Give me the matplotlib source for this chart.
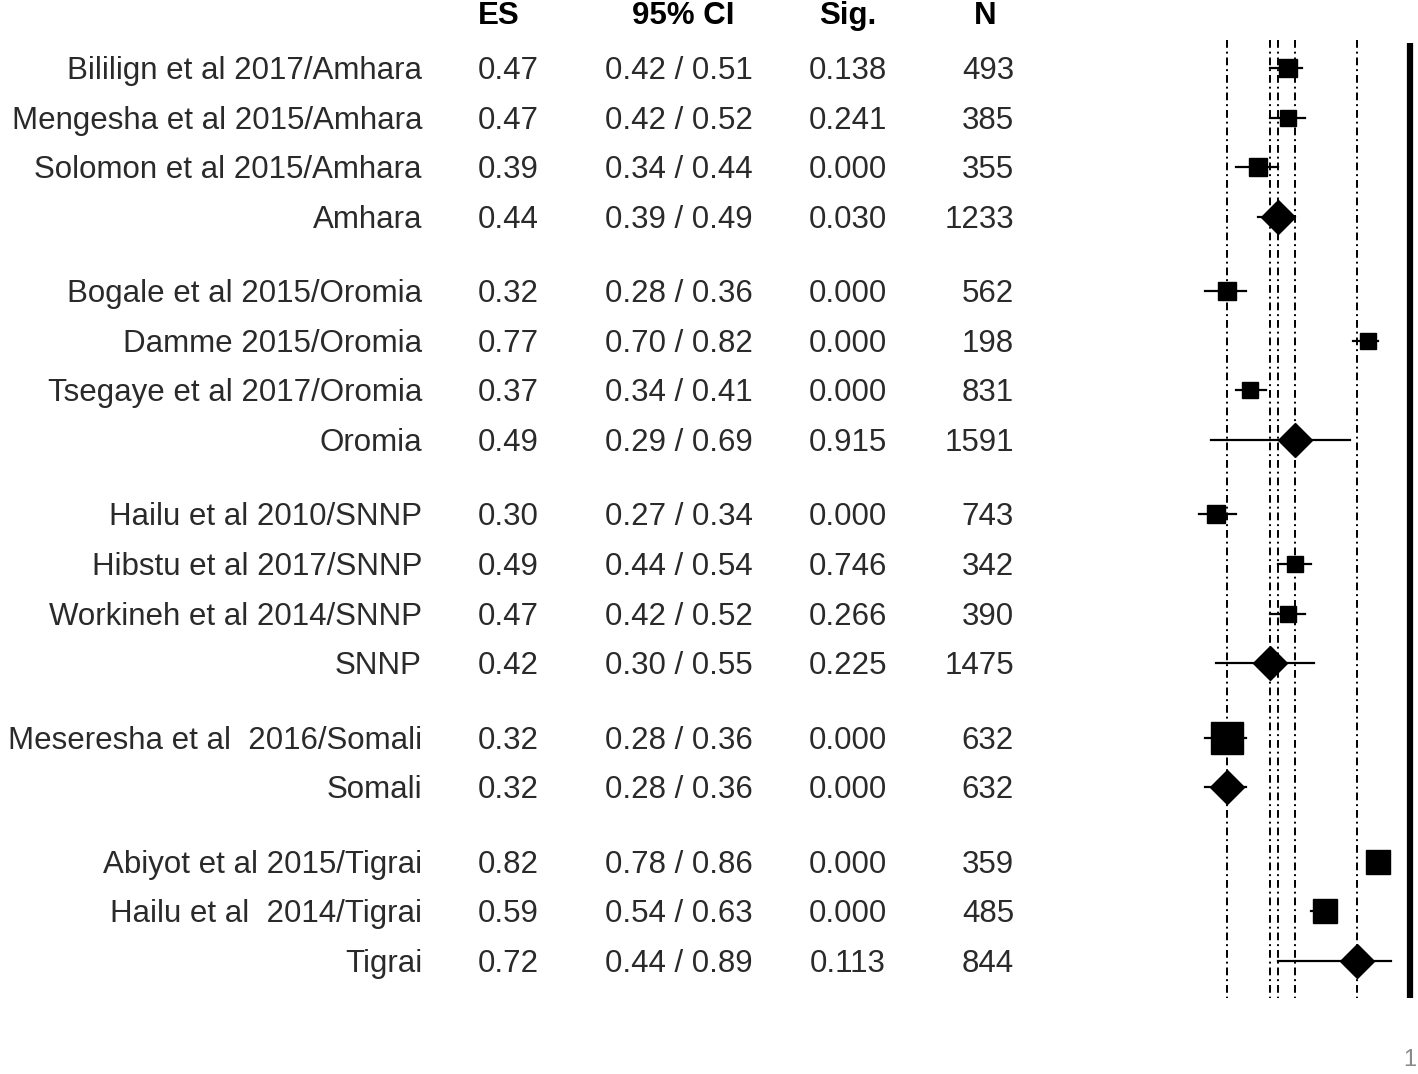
import numpy as np
import matplotlib
matplotlib.use("Agg")
import matplotlib.pyplot as plt
from matplotlib import font_manager, transforms

# ---------------- data ----------------
labels = ["Bililign et al 2017/Amhara", "Mengesha et al 2015/Amhara", "Solomon et al 2015/Amhara", "Amhara",
          "Bogale et al 2015/Oromia", "Damme 2015/Oromia", "Tsegaye et al 2017/Oromia", "Oromia",
          "Hailu et al 2010/SNNP", "Hibstu et al 2017/SNNP", "Workineh et al 2014/SNNP", "SNNP",
          "Meseresha et al  2016/Somali", "Somali",
          "Abiyot et al 2015/Tigrai", "Hailu et al  2014/Tigrai", "Tigrai"]
groups = [0, 0, 0, 0, 1, 1, 1, 1, 2, 2, 2, 2, 3, 3, 4, 4, 4]
is_summary = [False, False, False, True, False, False, False, True,
              False, False, False, True, False, True, False, False, True]
es = [0.47, 0.47, 0.39, 0.44, 0.32, 0.77, 0.37, 0.49, 0.30, 0.49, 0.47, 0.42, 0.32, 0.32, 0.82, 0.59, 0.72]
ci_low = [0.42, 0.42, 0.34, 0.39, 0.28, 0.70, 0.34, 0.29, 0.27, 0.44, 0.42, 0.30, 0.28, 0.28, 0.78, 0.54, 0.44]
ci_high = [0.51, 0.52, 0.44, 0.49, 0.36, 0.82, 0.41, 0.69, 0.34, 0.54, 0.52, 0.55, 0.36, 0.36, 0.86, 0.63, 0.89]
sig = ["0.138", "0.241", "0.000", "0.030", "0.000", "0.000", "0.000", "0.915",
       "0.000", "0.746", "0.266", "0.225", "0.000", "0.000", "0.000", "0.000", "0.113"]
n = [493, 385, 355, 1233, 562, 198, 831, 1591, 743, 342, 390, 1475, 632, 632, 359, 485, 844]
# relative study weights (square size)
weight = [1.0, 0.95, 1.0, None, 1.0, 0.95, 0.95, None, 1.0, 0.95, 0.95, None, 1.8, None, 1.35, 1.3, None]
subgroup_es = [0.32, 0.42, 0.44, 0.49, 0.72]
headers = ["ES", "95% CI", "Sig.", "N"]

# ---------------- fonts ----------------
names = {f.name for f in font_manager.fontManager.ttflist}
fam = "Liberation Sans Narrow" if "Liberation Sans Narrow" in names else "Liberation Sans"
plt.rcParams["font.family"] = [fam, "DejaVu Sans"]

W, H = 1418, 1074
fig = plt.figure(figsize=(W / 100, H / 100), dpi=100)

# row positions (group gaps of half a row)
ypos = []
y = 0.0
prev = groups[0]
for g in groups:
    if g != prev:
        y += 0.5
        prev = g
    ypos.append(y)
    y += 1.0
ypos = np.array(ypos)

row_px = 49.6
top_px = 68
def py(p):
    return (p - top_px) / row_px

ax = fig.add_axes([1190 / W, 0, (W - 1190) / W, 1])
ax.set_xscale("log")
x_left = np.exp((1190 - 1410) / 161.0)
x_right = np.exp((W - 1410) / 161.0)
ax.set_xlim(x_left, x_right)
ax.set_ylim(py(H), py(0))
ax.axis("off")

y_top, y_bot = py(40), py(998)
for v in subgroup_es:
    ax.plot([v, v], [y_top, y_bot], color="black", lw=1.4, linestyle=(0, (4, 2, 1, 2)), zorder=1)
ax.plot([1, 1], [py(43), y_bot], color="black", lw=4.5, solid_capstyle="butt", zorder=1)

for i in range(len(labels)):
    ax.plot([ci_low[i], ci_high[i]], [ypos[i], ypos[i]], color="black", lw=1.6, zorder=2)
    if is_summary[i]:
        ax.plot(es[i], ypos[i], marker="D", color="black", markersize=17, zorder=3, linestyle="none")
    else:
        ax.plot(es[i], ypos[i], marker="s", color="black", markersize=12.8 * weight[i], zorder=3, linestyle="none")

ax.text(1.0, py(1060), "1", ha="center", va="center", fontsize=17, color="#8a8a8a", clip_on=False)

# ---------------- table text ----------------
tr = transforms.blended_transform_factory(fig.transFigure, ax.transData)
fs = 22.5
tcol = "#2a2a2a"
dy = 0.06
hy = py(16)
for hx, h in zip([499, 683, 848, 985], headers):
    fig.text(hx / W, hy, h, transform=tr, ha="center", va="center", fontsize=fs, fontweight="bold", color="black")

for i in range(len(labels)):
    yy = ypos[i] + dy
    fig.text(422 / W, yy, labels[i], transform=tr, ha="right", va="center", fontsize=fs, color=tcol)
    fig.text(508 / W, yy, f"{es[i]:.2f}", transform=tr, ha="center", va="center", fontsize=fs, color=tcol)
    fig.text(679 / W, yy, f"{ci_low[i]:.2f} / {ci_high[i]:.2f}", transform=tr, ha="center", va="center", fontsize=fs, color=tcol)
    fig.text(848 / W, yy, sig[i], transform=tr, ha="center", va="center", fontsize=fs, color=tcol)
    fig.text(1014 / W, yy, str(n[i]), transform=tr, ha="right", va="center", fontsize=fs, color=tcol)

fig.savefig("out.png", dpi=100)
